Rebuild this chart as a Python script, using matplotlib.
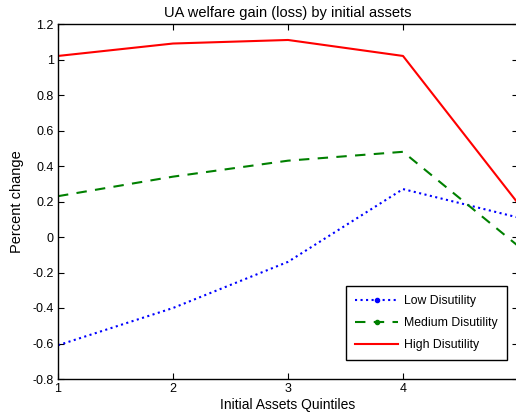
import numpy as np
import matplotlib.pyplot as plt
from matplotlib.lines import Line2D

plt.rcParams['font.family'] = ['Liberation Sans', 'DejaVu Sans']

quintiles = [1, 2, 3, 4, 5]
low_disutility = [-0.61, -0.40, -0.14, 0.27, 0.11]
medium_disutility = [0.23, 0.34, 0.43, 0.48, -0.05]
high_disutility = [1.02, 1.09, 1.11, 1.02, 0.19]

fig = plt.figure(figsize=(5.16, 4.17), dpi=100)
ax = fig.add_axes([58 / 516, (417 - 379) / 417, 460 / 516, 355 / 417])

ax.plot(quintiles, low_disutility, color='blue', linestyle=':', linewidth=1.5)
ax.plot(quintiles, medium_disutility, color='green', linestyle=(0, (5, 4)), linewidth=1.5)
ax.plot(quintiles, high_disutility, color='red', linestyle='-', linewidth=1.5)

ax.set_xlim(1, 5)
ax.set_ylim(-0.8, 1.2)
ax.set_xticks([1, 2, 3, 4])
ax.set_yticks(np.arange(-0.8, 1.21, 0.2))
ax.set_yticklabels(['-0.8', '-0.6', '-0.4', '-0.2', '0', '0.2', '0.4', '0.6', '0.8', '1', '1.2'])
ax.tick_params(direction='in', top=True, right=True, labelsize=9, length=4, width=0.8, pad=3)
for s in ax.spines.values():
    s.set_linewidth(1.0)

ax.set_title('UA welfare gain (loss) by initial assets', fontsize=10.5, pad=5)
ax.set_xlabel('Initial Assets Quintiles', fontsize=10, labelpad=2)
ax.set_ylabel('Percent change', fontsize=10.5, labelpad=6)

handles = [
    Line2D([0], [0], color='blue', linestyle=':', linewidth=1.5, marker='.', markersize=6),
    Line2D([0], [0], color='green', linestyle=(0, (5, 4)), linewidth=1.5, marker='.', markersize=6),
    Line2D([0], [0], color='red', linestyle='-', linewidth=1.5),
]
leg = ax.legend(handles, ['Low Disutility', 'Medium Disutility', 'High Disutility'],
                loc='lower right', bbox_to_anchor=(0.976, 0.0535), borderaxespad=0,
                fontsize=8.8, fancybox=False, edgecolor='black', framealpha=1,
                numpoints=1, handlelength=3.5, handletextpad=0.5,
                borderpad=0.75, labelspacing=0.8)
leg.get_frame().set_linewidth(1.0)

fig.savefig('out.png', dpi=100)
